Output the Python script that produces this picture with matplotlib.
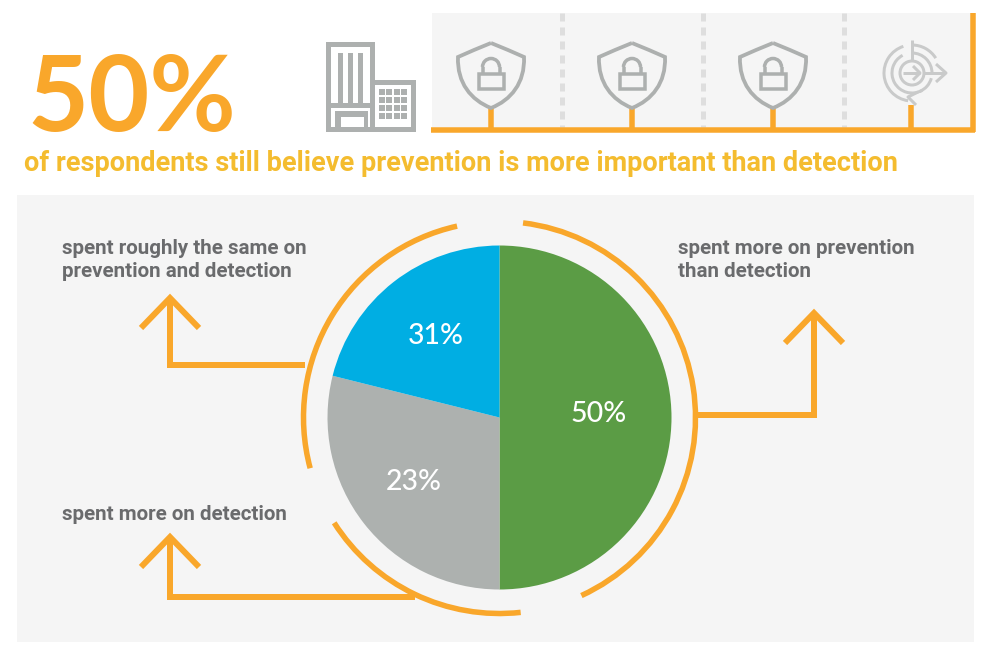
import matplotlib
matplotlib.use("Agg")
import matplotlib.pyplot as plt
from matplotlib.patches import Rectangle, Arc, PathPatch
from matplotlib.path import Path

W, H = 988, 656

# wedges as drawn (the printed labels do not match the drawn sizes)
slice_names = ["prevention", "detection", "same"]
slice_sizes = [50, 28.9, 21.1]
slice_labels = ["50%", "23%", "31%"]
slice_colors = ["#5B9C45", "#ADB1AF", "#00AEE3"]

big_number = "50%"
subtitle = "of respondents still believe prevention is more important than detection"
label_same = "spent roughly the same on\nprevention and detection"
label_detection = "spent more on detection"
label_prevention = "spent more on prevention\nthan detection"

ORANGE = "#F9A72B"
YELLOW = "#F4BC2F"
PANEL = "#F5F5F5"
TEXT = "#6A6B6D"
ICON = "#ADB0AF"
LIGHT = "#C9CACA"
PX = 0.72  # line widths: one pixel in points at dpi 100

narrow = ["Roboto", "DejaVu Sans"]
round_font = ["Lato", "DejaVu Sans"]


def py(y):
    return H - y


fig = plt.figure(figsize=(W / 100, H / 100), dpi=100)
ax = fig.add_axes([0, 0, 1, 1])


def line(xs, ys, color=ORANGE, lw=6, z=3, **kw):
    kw.setdefault("solid_capstyle", "butt")
    ax.plot(xs, [py(v) for v in ys], color=color, lw=lw * PX, zorder=z, **kw)


def rect(x0, y0, x1, y1, color, z=2):
    ax.add_patch(Rectangle((x0, py(y1)), x1 - x0, y1 - y0, fc=color, ec="none", zorder=z))


def arc(cx, cy, r, a0, a1, color=ORANGE, lw=5.5, z=3):
    ax.add_patch(Arc((cx, py(cy)), 2 * r, 2 * r, theta1=a0, theta2=a1,
                     color=color, lw=lw * PX, zorder=z))


def arrow_up(x, top, wing_y, half):
    line([x - half, x, x + half], [wing_y, top, wing_y], solid_joinstyle="miter")


def shield(cx):
    top = 43
    verts = [(cx, top), (cx + 17, top + 7), (cx + 33, top + 14),
             (cx + 34, top + 40), (cx + 20, top + 57), (cx, top + 65),
             (cx - 20, top + 57), (cx - 34, top + 40), (cx - 33, top + 14),
             (cx - 17, top + 7), (cx, top)]
    codes = [Path.MOVETO, Path.LINETO, Path.LINETO] + [Path.CURVE4] * 6 + [Path.LINETO, Path.LINETO]
    verts = [(x, py(y)) for x, y in verts]
    ax.add_patch(PathPatch(Path(verts, codes), fc="none", ec=ICON, lw=3.8 * PX, zorder=4))
    # padlock
    ax.add_patch(Rectangle((cx - 12.5, py(89)), 25, 15, fc="none", ec=ICON, lw=3.5 * PX, zorder=4))
    arc(cx, 67, 8.5, 0, 180, color=ICON, lw=3.5, z=4)
    line([cx - 8.5, cx - 8.5], [67, 74], color=ICON, lw=3.5, z=4)
    line([cx + 8.5, cx + 8.5], [67, 74], color=ICON, lw=3.5, z=4)


# background panels
rect(432, 13, 975, 128, PANEL, z=1)
rect(17, 195, 974, 642, PANEL, z=1)

# dashed separators in the top panel
for x in [562, 703, 844]:
    line([x, x], [13, 127], color="#DEDEDE", lw=5, z=2, linestyle=(0, (1.6, 1.2)))

# timeline
line([431, 975], [129.5, 129.5], lw=5.5)
line([973, 973], [13, 132], lw=5.5)
for x, top in [(491, 108), (632, 108), (773, 108), (911, 105)]:
    line([x, x], [top, 129], lw=5.5)

for x in [491, 632, 773]:
    shield(x)

# building icon
rect(326, 42, 375, 47, ICON)
rect(326, 42, 331, 132, ICON)
rect(370, 42, 375, 132, ICON)
rect(326, 103, 375, 108, ICON)
for x in [338, 348, 358]:
    rect(x, 53, x + 5, 103, ICON)
rect(335, 111, 368, 117, ICON)
rect(335, 111, 341, 132, ICON)
rect(364, 111, 368, 132, ICON)
rect(326, 127, 416, 132, ICON)
rect(375, 80, 416, 85, ICON)
rect(411, 80, 416, 132, ICON)
for row in range(4):
    for col in range(4):
        x0 = 379 + col * 7.3
        y0 = 89 + row * 8
        rect(x0, y0, x0 + 6, y0 + 6, ICON)

# target icon
cx, cy = 912, 73
for r, a0, a1 in [(28, 108, 262), (28, 32, 90), (20, 0, 90), (20, 118, 300),
                  (20, 292, 345), (12, 0, 360)]:
    arc(cx, cy, r, a0, a1, color=LIGHT, lw=3, z=4)
line([cx, cx], [40, cy - 12], color=LIGHT, lw=3, z=4)
line([cx + 12, 945], [cy, cy], color=LIGHT, lw=3, z=4)
line([936, 946, 936], [64, 73, 82], color=LIGHT, lw=3, z=4)
line([cx - 9, cx + 8], [cy, cy], color=LIGHT, lw=3, z=4)
line([cx + 1, cx + 8, cx + 1], [66, 73, 80], color=LIGHT, lw=3, z=4)
line([918, 908, 916], [92, 97, 105], color=LIGHT, lw=3, z=4)

# pie
pie_cx, pie_cy, pie_r = 499.5, 417.5, 172
ax.pie(slice_sizes, colors=slice_colors, startangle=90, counterclock=False,
       center=(pie_cx, py(pie_cy)), radius=pie_r, frame=True,
       wedgeprops={"linewidth": 0, "zorder": 2})

for text, x, y in zip(slice_labels, [599, 414, 436], [414.5, 482.5, 335.5]):
    ax.text(x, py(y), text, color="white", fontsize=20.5, family=round_font,
            fontweight="medium", ha="center", va="center", zorder=5)

# ring around the pie
ring_r = 196
for a0, a1 in [(-65.3, 83.1), (212.5, 276.2), (102.5, 195)]:
    arc(pie_cx, pie_cy, ring_r, a0, a1)

# connectors
line([170, 170], [300, 368])
line([167, 305], [365, 365])
arrow_up(170, 298, 328, 29)

line([170, 170], [538, 600])
line([167, 415], [597, 597])
arrow_up(170, 537, 567, 29)

line([814, 814], [314, 418])
line([695, 817], [415, 415])
arrow_up(814, 313, 343, 29)

# text
ax.text(27, py(131), big_number, color=ORANGE, fontsize=76, family=round_font,
        fontweight="bold", ha="left", va="baseline", zorder=5)
ax.text(24, py(171), subtitle, color=YELLOW, fontsize=19.5, family=narrow,
        fontweight="bold", ha="left", va="baseline", zorder=5)
ax.text(62, py(277), label_same, color=TEXT, fontsize=14.8, family=narrow,
        fontweight="bold", ha="left", va="baseline", linespacing=1.25, zorder=5)
ax.text(62, py(519.5), label_detection, color=TEXT, fontsize=14.8, family=narrow,
        fontweight="bold", ha="left", va="baseline", zorder=5)
ax.text(678, py(277), label_prevention, color=TEXT, fontsize=14.8, family=narrow,
        fontweight="bold", ha="left", va="baseline", linespacing=1.25, zorder=5)

ax.set_xlim(0, W)
ax.set_ylim(0, H)
ax.set_aspect("auto")
ax.axis("off")

fig.savefig("out.png", dpi=100, facecolor="white")
